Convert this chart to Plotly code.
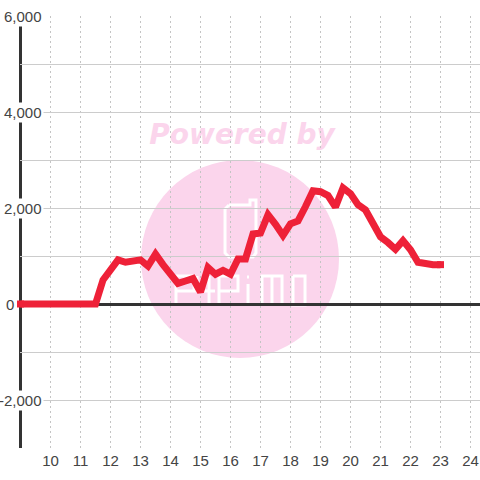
import plotly.graph_objects as go

hours = [9, 9.25, 9.5, 9.75, 10, 10.25, 10.5, 10.75, 11, 11.25, 11.5, 11.75,
         12, 12.25, 12.5, 12.75, 13, 13.25, 13.5, 13.75, 14, 14.25, 14.5, 14.75,
         15, 15.25, 15.5, 15.75, 16, 16.25, 16.5, 16.75, 17, 17.25, 17.5, 17.75,
         18, 18.25, 18.5, 18.75, 19, 19.25, 19.5, 19.75, 20, 20.25, 20.5, 20.75,
         21, 21.25, 21.5, 21.75, 22, 22.25, 22.5, 22.75, 23]
values = [0, 0, 0, 0, 0, 0, 0, 0, 0, 0, 0, 500,
          700, 920, 870, 890, 920, 790, 1040, 820, 610, 430, 480, 530,
          250, 760, 620, 700, 620, 940, 940, 1460, 1480, 1860, 1660, 1430,
          1670, 1730, 2030, 2360, 2340, 2260, 2020, 2420, 2300, 2070, 1960, 1700,
          1400, 1280, 1140, 1320, 1130, 870, 830, 820, 820]
x_ticks = [10, 11, 12, 13, 14, 15, 16, 17, 18, 19, 20, 21, 22, 23, 24]
y_grid = [-3000, -2000, -1000, 0, 1000, 2000, 3000, 4000, 5000, 6000]
y_labels = [-2000, 0, 2000, 4000, 6000]

TEXT = "#444444"
RED = "#ee2138"
PINK = "#fbd5ec"


def px(x):
    return (x - 20) / 460


def py(y):
    return (448 - y) / 432


def path(points, close=False):
    d = "M" + " L".join(f"{px(a):.4f},{py(b):.4f}" for a, b in points)
    return d + (" Z" if close else "")


logo = [
    [(229, 205), (250, 205), (250, 200), (256, 200), (256, 253), (253, 257), (229, 257), (225, 253), (225, 209), (229, 205)],
    [(176, 305), (176, 276), (194, 276), (194, 291), (176, 291)],
    [(197, 276), (197, 291), (215, 291)],
    [(209, 276), (209, 305)],
    [(219, 305), (219, 276), (238, 276), (238, 291), (219, 291)],
    [(248, 284), (248, 305)],
    [(247, 277), (249, 277)],
    [(262, 305), (262, 276), (282, 276), (282, 305)],
    [(272, 276), (272, 305)],
    [(293, 276), (305, 276), (305, 305), (293, 305), (293, 276)],
]

shapes = [
    dict(type="circle", xref="paper", yref="paper", layer="below",
         x0=px(141), x1=px(339), y0=py(358), y1=py(160),
         fillcolor=PINK, line=dict(width=0)),
    dict(type="rect", xref="paper", yref="paper", layer="below",
         x0=px(140), x1=px(344), y0=py(147), y1=py(117),
         fillcolor="rgba(0,0,0,0)", line=dict(width=0),
         label=dict(text="<b><i>Powered by</i></b>", textposition="middle center",
                    font=dict(family="DejaVu Sans", size=28, color=PINK))),
]
for pts in logo:
    shapes.append(dict(type="path", xref="paper", yref="paper", layer="below",
                       path=path(pts), line=dict(color="white", width=3),
                       fillcolor="rgba(0,0,0,0)"))
shapes.append(dict(type="line", xref="paper", yref="paper", layer="below",
                   x0=px(20.5), x1=px(20.5), y0=0, y1=1,
                   line=dict(color="#333333", width=3)))

fig = go.Figure()
fig.add_trace(go.Scatter(x=hours, y=values, mode="lines", cliponaxis=False,
                         line=dict(color=RED, width=7), hoverinfo="skip"))
fig.add_trace(go.Scatter(x=[hours[0], hours[-1]], y=[values[0], values[-1]], mode="markers",
                         cliponaxis=False, hoverinfo="skip",
                         marker=dict(symbol="square", color=RED, size=7, line=dict(width=0))))

annotations = []
for v in y_labels:
    annotations.append(dict(
        x=0, xref="paper", y=v, yref="y", xanchor="right", yanchor="middle",
        xshift=-4 if v == 0 else 24, showarrow=False, text=f"{v:,}",
        font=dict(family="Liberation Sans", size=15, color=TEXT),
        bgcolor="white" if v != 0 else "rgba(0,0,0,0)", borderpad=1))

fig.update_layout(
    width=480, height=480, showlegend=False,
    margin=dict(l=20, r=0, t=16, b=32, pad=0),
    paper_bgcolor="white", plot_bgcolor="rgba(0,0,0,0)",
    shapes=shapes, annotations=annotations,
    font=dict(family="Liberation Sans", size=15, color=TEXT),
    xaxis=dict(range=[8.983, 24.317], tickmode="array", tickvals=x_ticks, ticks="",
               ticklabelstandoff=2,
               showgrid=True, gridcolor="#c4c4c4", griddash="2px,3px", gridwidth=1,
               zeroline=False, showline=False, tickfont=dict(size=15, color=TEXT)),
    yaxis=dict(range=[-3000, 6000], tickmode="array", tickvals=y_grid, ticks="",
               showticklabels=False, showgrid=True, gridcolor="#cccccc", gridwidth=1,
               zeroline=True, zerolinecolor="#333333", zerolinewidth=3, showline=False),
)

fig.write_html("out.html", config=dict(displayModeBar=False),
               post_script="document.body.style.margin='0';document.body.style.overflow='hidden';")
